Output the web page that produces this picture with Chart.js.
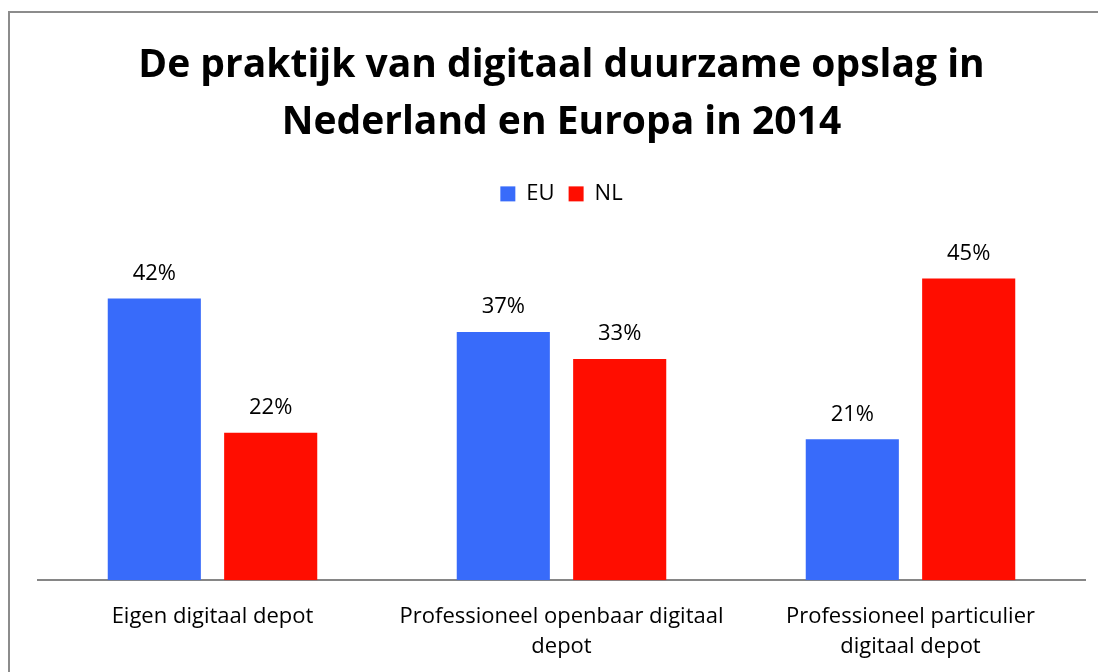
<!DOCTYPE html>
<html>
<head>
<meta charset="utf-8">
<script src="https://cdn.jsdelivr.net/npm/chart.js@4/dist/chart.umd.min.js"></script>
<style>
    html, body { margin: 0; padding: 0; background: #fff; overflow: hidden; }
    #frame {
        position: absolute; left: 8px; top: 11px; width: 1088px; height: 663px;
        border-top: 2px solid #8c8c8c; border-left: 2px solid #8c8c8c;
    }
    #wrap { position: absolute; left: 0; top: 0; width: 1088px; height: 663px; }
</style>
</head>
<body>
<div id="frame"><div id="wrap"><canvas id="chart"></canvas></div></div>
<script>
// data
const categories = [
    ['Eigen digitaal depot'],
    ['Professioneel openbaar digitaal', 'depot'],
    ['Professioneel particulier', 'digitaal depot']
];
const euValues = [42, 37, 21];
const nlValues = [22, 33, 45];
const titleLines = ['De praktijk van digitaal duurzame opslag in', 'Nederland en Europa in 2014'];

const FONT = '"Open Sans", sans-serif';

// draws the % labels above each bar
const valueLabels = {
    id: 'valueLabels',
    afterDatasetsDraw(chart) {
        const ctx = chart.ctx;
        ctx.save();
        ctx.font = '22px ' + FONT;
        ctx.fillStyle = '#000';
        ctx.textAlign = 'center';
        ctx.textBaseline = 'middle';
        chart.data.datasets.forEach(function (ds, i) {
            chart.getDatasetMeta(i).data.forEach(function (bar, j) {
                ctx.fillText(ds.data[j] + '%', bar.x, bar.y - 25);
            });
        });
        ctx.restore();
    }
};

// extra room between legend and bars
const legendGap = {
    id: 'legendGap',
    beforeInit(chart) {
        const fit = chart.legend.fit;
        chart.legend.fit = function () {
            fit.call(this);
            this.height += 30;
        };
    }
};

document.addEventListener('DOMContentLoaded', function () {
    const ctx = document.getElementById('chart').getContext('2d');
    new Chart(ctx, {
        type: 'bar',
        data: {
            labels: categories,
            datasets: [
                { label: 'EU', data: euValues, backgroundColor: '#386BFA' },
                { label: 'NL', data: nlValues, backgroundColor: '#FF0D00' }
            ]
        },
        plugins: [valueLabels, legendGap],
        options: {
            responsive: true,
            maintainAspectRatio: false,
            animation: false,
            categoryPercentage: 0.667,
            barPercentage: 0.8,
            layout: { padding: { left: 28, right: 13, top: 24, bottom: 0 } },
            plugins: {
                title: {
                    display: true,
                    text: titleLines,
                    color: '#000',
                    font: { family: FONT, size: 39, weight: 'bold', lineHeight: 1.46 },
                    padding: { top: 0, bottom: 18 }
                },
                legend: {
                    position: 'top',
                    labels: {
                        color: '#000',
                        font: { family: FONT, size: 22 },
                        boxWidth: 15,
                        boxHeight: 15,
                        padding: 14
                    }
                },
                tooltip: { enabled: false }
            },
            scales: {
                x: {
                    grid: { display: false },
                    border: { display: true, color: '#868686', width: 2 },
                    ticks: { color: '#000', font: { family: FONT, size: 22, lineHeight: 1.36 }, padding: 14 }
                },
                y: {
                    display: false,
                    min: 0,
                    max: 50
                }
            }
        }
    });
});
</script>
</body>
</html>
